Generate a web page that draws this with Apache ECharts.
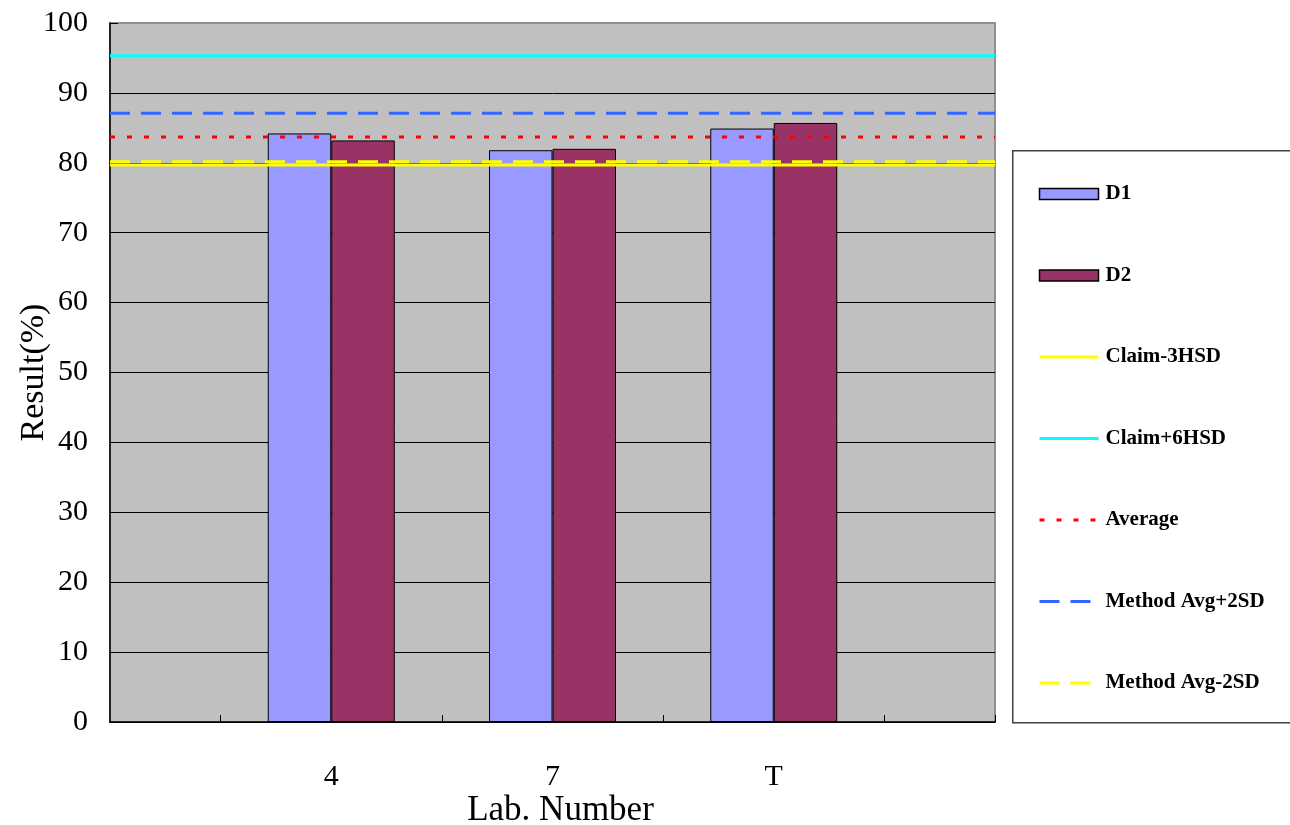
<!DOCTYPE html>
<html>
<head>
<meta charset="utf-8">
<script src="https://cdn.jsdelivr.net/npm/echarts@6/dist/echarts.min.js"></script>
<style>
html,body{margin:0;padding:0;background:#fff;}
#chart{width:1290px;height:825px;}
</style>
</head>
<body>
<div id="chart"></div>
<script>
// Categories (empty slots at both ends, as in the reference)
const categories = ['', '4', '7', 'T', ''];
const yTicks = [0, 10, 20, 30, 40, 50, 60, 70, 80, 90, 100];

// Bar series
const d1 = [null, 84.2, 81.8, 84.9, null];
const d2 = [null, 83.2, 82.0, 85.7, null];

// Reference lines
const claimMinus3HSD = [79.7, 79.7, 79.7, 79.7, 79.7];
const claimPlus6HSD = [95.3, 95.3, 95.3, 95.3, 95.3];
const average = [83.7, 83.7, 83.7, 83.7, 83.7];
const methodAvgPlus2SD = [87.1, 87.1, 87.1, 87.1, 87.1];
const methodAvgMinus2SD = [80.15, 80.15, 80.15, 80.15, 80.15];

const serif = 'Liberation Serif, Times New Roman, serif';
const chart = echarts.init(document.getElementById('chart'));

function lineSeries(name, data, color, type) {
  return {
    name: name, type: 'line', data: data, xAxisIndex: 0,
    symbol: 'none', silent: true, z: 5,
    lineStyle: { color: color, width: 3, type: type, cap: 'butt' },
    itemStyle: { color: color }
  };
}
function lineLegend(name) {
  return { name: name, itemStyle: { opacity: 0, borderWidth: 0 }, lineStyle: { width: 3 } };
}

chart.setOption({
  animation: false,
  backgroundColor: '#ffffff',
  grid: {
    left: 110, top: 23, right: 295, bottom: 103,
    outerBoundsMode: 'none', containLabel: false,
    show: true, backgroundColor: '#C0C0C0', borderColor: '#909090', borderWidth: 2
  },
  graphic: [{
    type: 'rect', left: 1012, top: 150, z: -1,
    shape: { width: 300, height: 572 },
    style: { fill: '#ffffff', stroke: '#404040', lineWidth: 1.5 }
  }],
  legend: {
    orient: 'vertical', left: 1033, top: 178, padding: 5,
    itemWidth: 59, itemHeight: 11, itemGap: 59.5,
    textStyle: { fontFamily: serif, fontWeight: 'bold', fontSize: 21, color: '#000', lineHeight: 22, padding: [0, 0, 0, 2] },
    data: [
      { name: 'D1', icon: 'rect', itemStyle: { borderColor: '#000', borderWidth: 1.5 } },
      { name: 'D2', icon: 'rect', itemStyle: { borderColor: '#000', borderWidth: 1.5 } },
      lineLegend('Claim-3HSD'), lineLegend('Claim+6HSD'), lineLegend('Average'),
      lineLegend('Method Avg+2SD'), lineLegend('Method Avg-2SD')
    ]
  },
  xAxis: [{
    type: 'category', data: categories, boundaryGap: false, position: 'bottom',
    name: 'Lab. Number', nameLocation: 'middle', nameGap: 71, nameMoveOverlap: false,
    nameTextStyle: { fontFamily: serif, fontSize: 35, color: '#000', padding: [0, 0, 0, 16] },
    axisLine: { show: true, lineStyle: { color: '#000', width: 1.5 } },
    axisTick: { show: false },
    axisLabel: { fontFamily: serif, fontSize: 30, color: '#000', margin: 40, interval: 0 },
    splitLine: { show: false }
  }, {
    type: 'category', data: ['', '', '', '', '', '', '', ''], boundaryGap: true, position: 'bottom',
    axisLine: { show: false },
    axisLabel: { show: false },
    axisTick: { show: true, inside: true, length: 7, lineStyle: { color: '#000', width: 1 },
      interval: function (i) { return i % 2 === 1; } },
    splitLine: { show: false }
  }],
  yAxis: {
    type: 'value', min: 0, max: 100, interval: 10,
    name: 'Result(%)', nameLocation: 'middle', nameGap: 59, nameRotate: 90, nameMoveOverlap: false,
    nameTextStyle: { fontFamily: serif, fontSize: 34, color: '#000' },
    axisLine: { show: true, lineStyle: { color: '#000', width: 1.5 } },
    axisTick: { show: true, inside: true, length: 8, lineStyle: { color: '#000' } },
    axisLabel: { fontFamily: serif, fontSize: 30, color: '#000', margin: 22,
      formatter: function (v) { return yTicks.indexOf(v) >= 0 ? String(v) : ''; } },
    splitLine: { show: true, showMaxLine: false, lineStyle: { color: '#000', width: 1 } }
  },
  series: [
    { name: 'D1', type: 'bar', data: d1, barWidth: 63.5, barGap: '0%', z: 3,
      itemStyle: { color: '#9999FF', borderColor: '#000', borderWidth: 1 } },
    { name: 'D2', type: 'bar', data: d2, barWidth: 63.5, barGap: '0%', z: 3,
      itemStyle: { color: '#993366', borderColor: '#000', borderWidth: 1 } },
    lineSeries('Claim-3HSD', claimMinus3HSD, '#FFFF00', 'solid'),
    lineSeries('Claim+6HSD', claimPlus6HSD, '#00FFFF', 'solid'),
    lineSeries('Average', average, '#FF0000', [5, 12]),
    lineSeries('Method Avg+2SD', methodAvgPlus2SD, '#3366FF', [20, 11]),
    lineSeries('Method Avg-2SD', methodAvgMinus2SD, '#FFFF00', [20, 11])
  ]
});
</script>
</body>
</html>
